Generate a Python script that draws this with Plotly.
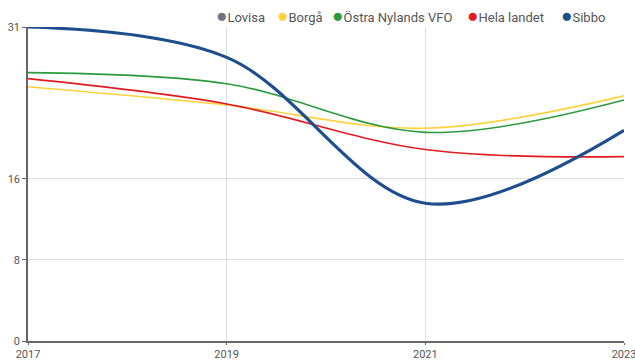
import plotly.graph_objects as go

# Yearly figures per area
years = [2017, 2019, 2021, 2023]
series_names = ["Lovisa", "Borgå", "Östra Nylands VFO", "Hela landet", "Sibbo"]
lovisa = [None, None, None, None]
borga = [25.1, 23.3, 21.0, 24.2]
ostra_nylands = [26.5, 25.4, 20.6, 23.8]
hela_landet = [25.9, 23.4, 18.9, 18.2]
sibbo = [31.0, 28.0, 13.6, 20.8]
y_ticks = [0, 8, 16, 31]
x_ticks = [2017, 2019, 2021, 2023]

colors = {
    "Lovisa": "#6b7682",
    "Borgå": "#fdd23e",
    "Östra Nylands VFO": "#2b9a3d",
    "Hela landet": "#e11b1f",
    "Sibbo": "#1f4e8e",
}
values = {
    "Lovisa": lovisa,
    "Borgå": borga,
    "Östra Nylands VFO": ostra_nylands,
    "Hela landet": hela_landet,
    "Sibbo": sibbo,
}

fig = go.Figure()
for name in series_names:
    fig.add_trace(go.Scatter(
        x=years, y=values[name], name=name, mode="lines",
        line=dict(color=colors[name], width=3.2 if name == "Sibbo" else 1.6,
                  shape="spline", smoothing=1.0),
        showlegend=False,
    ))

# Custom horizontal legend with round swatches along the top edge
plot_left, plot_right = 28, 624
legend_px = [214, 275, 330, 465, 559]
for name, px in zip(series_names, legend_px):
    fig.add_annotation(
        x=(px - plot_left) / (plot_right - plot_left), y=1.036,
        xref="paper", yref="paper", xanchor="left", yanchor="middle",
        showarrow=False,
        text=f"<span style='color:{colors[name]};font-size:19px'>●</span>{name}",
        font=dict(family="Roboto", size=13, color="#555555"),
    )

axis_font = dict(family="Roboto", size=11, color="#555555")
common_axis = dict(
    showgrid=True, gridcolor="#dddddd", gridwidth=1,
    showline=True, linecolor="#666666", linewidth=1.5,
    ticks="outside", tickcolor="#666666",
    zeroline=False, tickfont=axis_font, fixedrange=True,
    automargin=False, ticklabeloverflow="allow",
)
fig.update_layout(
    width=635, height=360,
    margin=dict(l=28, r=11, t=27, b=19),
    paper_bgcolor="white", plot_bgcolor="white",
    showlegend=False,
    xaxis=dict(range=[2017, 2023], tickvals=x_ticks, ticklen=2,
               ticktext=[str(t) for t in x_ticks], **common_axis),
    yaxis=dict(range=[0, 31], tickvals=y_ticks, ticklen=4, **common_axis),
)

fig.write_html("out.html")
